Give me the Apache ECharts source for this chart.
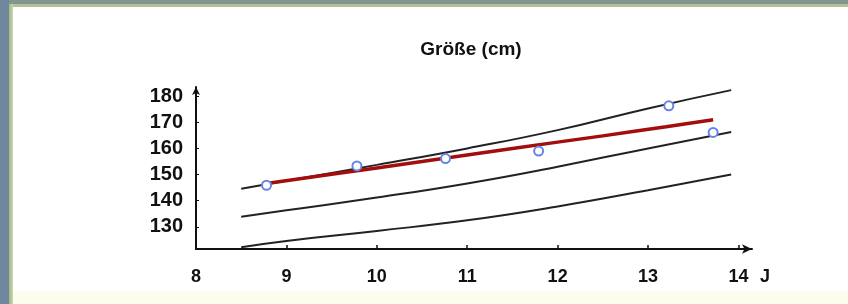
<!DOCTYPE html>
<html>
<head>
<meta charset="UTF-8">
<title>Größe (cm)</title>
<script src="https://cdn.jsdelivr.net/npm/echarts@6/dist/echarts.min.js"></script>
<style>
  html, body { margin: 0; padding: 0; }
  #frame { position: relative; width: 848px; height: 304px; background: #ffffff; overflow: hidden; }
  #frame .left { position: absolute; left: 0; top: 0; width: 9px; height: 304px; background: #6f889e; }
  #frame .leftGreen { position: absolute; left: 9px; top: 4px; width: 4px; height: 300px; background: linear-gradient(to right, #a3b680, #cbd8ac); }
  #frame .top { position: absolute; left: 9px; top: 0; width: 839px; height: 4px; background: #82968f; }
  #frame .topGreen { position: absolute; left: 13px; top: 4px; width: 835px; height: 3px; background: #b2c293; }
  #frame .bottom { position: absolute; left: 13px; top: 291px; width: 835px; height: 13px; background: #fcfdec; }
  #chart { position: absolute; left: 0; top: 0; width: 848px; height: 304px; }
</style>
</head>
<body>
<div id="frame">
  <div class="left"></div>
  <div class="leftGreen"></div>
  <div class="top"></div>
  <div class="topGreen"></div>
  <div class="bottom"></div>
  <div id="chart"></div>
</div>
<script type="text/javascript">
  // Perzentilkurven (Alter in Jahren, Größe in cm)
  var curveAges = [8.5, 9, 10, 11, 12, 13, 13.92];
  var upperCurve = [144.6, 147.6, 153.7, 160, 167, 175.3, 182.3];
  var middleCurve = [133.8, 136.3, 141.2, 146.6, 153, 160, 166.3];
  var lowerCurve = [122.2, 124.6, 128.4, 132.5, 137.8, 144, 150];

  // Verlauf des Kindes (rot)
  var trendAges = [8.78, 9.5, 10.5, 11.5, 12.5, 13.2, 13.72];
  var trendValues = [146.6, 150.1, 155, 160, 164.8, 168.3, 171];

  // Messpunkte
  var measureAges = [8.78, 9.78, 10.76, 11.79, 13.23, 13.72];
  var measureValues = [145.9, 153.3, 156.1, 159, 176.3, 166.1];

  // Achsenbeschriftung
  var xTickLabels = [8, 9, 10, 11, 12, 13, 14];
  var yTickLabels = [130, 140, 150, 160, 170, 180];

  function pairs(xs, ys) {
    return xs.map(function (x, i) { return [x, ys[i]]; });
  }

  var font = "'Liberation Sans', Arial, sans-serif";

  function curve(data, color, width) {
    return {
      type: 'line',
      data: data,
      smooth: 0.5,
      showSymbol: false,
      lineStyle: { color: color, width: width },
      z: 2
    };
  }

  var myChart = echarts.init(document.getElementById('chart'), null, { renderer: 'canvas' });
  var option = {
    animation: false,
    backgroundColor: 'transparent',
    title: {
      text: 'Größe (cm)',
      left: 466,
      top: 35,
      textAlign: 'center',
      textStyle: { fontFamily: font, fontSize: 19, fontWeight: 'bold', color: '#111' }
    },
    grid: { left: 196, right: 96, top: 87, bottom: 55, containLabel: false },
    xAxis: {
      type: 'value',
      min: 8,
      max: 14.15,
      name: 'J',
      nameLocation: 'end',
      nameGap: 8,
      nameTextStyle: {
        fontFamily: font, fontSize: 18, fontWeight: 'bold', color: '#111',
        verticalAlign: 'top', align: 'left', padding: [19, 0, 0, 0]
      },
      splitLine: { show: false },
      axisLine: {
        lineStyle: { color: '#111', width: 2 },
        symbol: ['none', 'arrow'],
        symbolSize: [7, 10]
      },
      axisTick: {
        inside: true, length: 4,
        lineStyle: { color: '#111', width: 1.5 },
        customValues: xTickLabels.slice(1)
      },
      axisLabel: {
        customValues: xTickLabels,
        margin: 19,
        fontFamily: font, fontSize: 18, fontWeight: 'bold', color: '#111'
      }
    },
    yAxis: {
      type: 'value',
      min: 121.5,
      max: 183.5,
      splitLine: { show: false },
      axisLine: {
        lineStyle: { color: '#111', width: 2 },
        symbol: ['none', 'arrow'],
        symbolSize: [6, 8]
      },
      axisTick: {
        inside: true, length: 3,
        lineStyle: { color: '#111', width: 1 },
        customValues: yTickLabels
      },
      axisLabel: {
        customValues: yTickLabels,
        margin: 13,
        fontFamily: font, fontSize: 20, fontWeight: 'bold', color: '#111'
      }
    },
    series: [
      curve(pairs(curveAges, upperCurve), '#222222', 2),
      curve(pairs(curveAges, middleCurve), '#222222', 2),
      curve(pairs(curveAges, lowerCurve), '#222222', 2),
      {
        type: 'line',
        data: pairs(trendAges, trendValues),
        smooth: 0.5,
        showSymbol: false,
        lineStyle: { color: '#a30d0d', width: 3.5 },
        z: 3
      },
      {
        type: 'scatter',
        data: pairs(measureAges, measureValues),
        symbol: 'emptyCircle',
        symbolSize: 9,
        itemStyle: { color: '#6584e6', borderColor: '#6584e6', borderWidth: 1.5, opacity: 1 },
        z: 4
      }
    ]
  };
  myChart.setOption(option);
</script>
</body>
</html>
